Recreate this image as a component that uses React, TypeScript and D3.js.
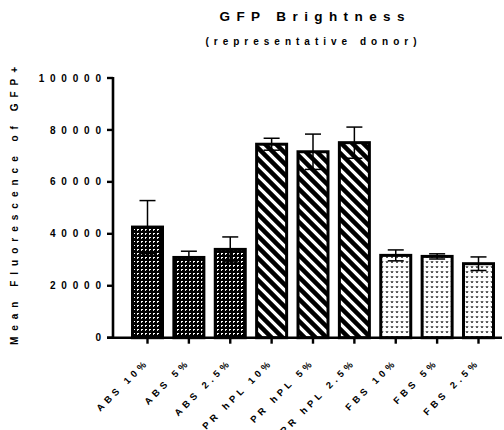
import React from "react";
import * as d3 from "d3";

const width = 504;
const height = 430;
const margin = { top: 78, right: 2, bottom: 94, left: 113 };

const categories = [
  "ABS 10%",
  "ABS 5%",
  "ABS 2.5%",
  "PR hPL 10%",
  "PR hPL 5%",
  "PR hPL 2.5%",
  "FBS 10%",
  "FBS 5%",
  "FBS 2.5%",
];
const means = [42600, 30900, 34000, 74500, 71600, 75100, 31700, 31300, 28500];
const errors = [10200, 2400, 4800, 2300, 6800, 6000, 2100, 1000, 2600];
const groups = ["abs", "abs", "abs", "hpl", "hpl", "hpl", "fbs", "fbs", "fbs"];
const yTicks = [0, 20000, 40000, 60000, 80000, 100000];

const font = "Arial, 'Liberation Sans', Helvetica, sans-serif";

export default function App() {
  const y = d3
    .scaleLinear()
    .domain([0, 100000])
    .range([height - margin.bottom + 1.7, margin.top]);

  const x = d3
    .scalePoint<string>()
    .domain(categories)
    .range([147.5, 478.5]);

  const barW = 30;
  const base = y(0);

  return (
    <svg
      width={width}
      height={height}
      style={{ position: "absolute", left: 0, top: 0 }}
      fontFamily={font}
    >
      <defs>
        <pattern id="abs" width="4" height="4" patternUnits="userSpaceOnUse">
          <rect width="4" height="4" fill="#000" />
          <rect x="1" y="1" width="2" height="1" fill="#fff" />
          <rect x="1" y="2" width="1" height="1" fill="#ddd" />
        </pattern>
        <pattern id="hpl" width="11" height="11" patternUnits="userSpaceOnUse">
          <rect width="11" height="11" fill="#fff" />
          <path
            d="M-3,-3 L14,14 M-3,8 L3,14 M8,-3 L14,3"
            stroke="#000"
            strokeWidth="4.5"
          />
        </pattern>
        <pattern id="fbs" width="5" height="5" patternUnits="userSpaceOnUse">
          <rect width="5" height="5" fill="#fff" />
          <path d="M1,1 L2,3 L3,1" stroke="#333" strokeWidth="1" fill="none" />
        </pattern>
      </defs>

      <text
        x={312 + 3.2}
        y={21}
        textAnchor="middle"
        fontSize={13.5}
        fontWeight="bold"
        letterSpacing={6.4}
      >
        GFP Brightness
      </text>
      <text
        x={311 + 2.5}
        y={45}
        textAnchor="middle"
        fontSize={10}
        fontWeight="bold"
        letterSpacing={5}
      >
        (representative donor)
      </text>

      <text
        transform={`translate(18, ${206 - 3}) rotate(-90)`}
        textAnchor="middle"
        fontSize={10}
        fontWeight="bold"
        letterSpacing={6}
      >
        Mean Fluorescence of GFP+
      </text>

      {categories.map((c, i) => {
        const cx = x(c)!;
        return (
          <rect
            key={c}
            x={cx - barW / 2}
            y={y(means[i])}
            width={barW}
            height={base - y(means[i])}
            fill={`url(#${groups[i]})`}
            stroke="#000"
            strokeWidth={3}
          />
        );
      })}

      {categories.map((c, i) => {
        const cx = x(c)!;
        const hi = y(means[i] + errors[i]);
        const lo = y(means[i] - errors[i]);
        return (
          <g key={c} stroke="#000" strokeWidth={1.5}>
            <line x1={cx} x2={cx} y1={hi} y2={lo} />
            <line x1={cx - 8} x2={cx + 8} y1={hi} y2={hi} />
            <line x1={cx - 8} x2={cx + 8} y1={lo} y2={lo} />
          </g>
        );
      })}

      {/* y axis */}
      <line
        x1={margin.left}
        x2={margin.left}
        y1={margin.top - 1}
        y2={base + 1.3}
        stroke="#000"
        strokeWidth={2.6}
      />
      {yTicks.map((t) => (
        <g key={t}>
          <line
            x1={margin.left - 6}
            x2={margin.left}
            y1={y(t)}
            y2={y(t)}
            stroke="#000"
            strokeWidth={2.4}
          />
          <text
            x={101 + 5.8}
            y={y(t) + 3.6}
            textAnchor="end"
            fontSize={10}
            fontWeight="bold"
            letterSpacing={5.8}
          >
            {t}
          </text>
        </g>
      ))}

      {/* x axis */}
      <line
        x1={margin.left - 6}
        x2={502}
        y1={base}
        y2={base}
        stroke="#000"
        strokeWidth={2.6}
      />
      {categories.map((c) => {
        const cx = x(c)!;
        return (
          <g key={c}>
            <line
              x1={cx}
              x2={cx}
              y1={base}
              y2={base + 6}
              stroke="#000"
              strokeWidth={2.4}
            />
            <text
              transform={`translate(${cx + 2}, ${base + 25}) rotate(-45)`}
              textAnchor="end"
              fontSize={9.5}
              fontWeight="bold"
              letterSpacing={4}
            >
              {c}
            </text>
          </g>
        );
      })}
    </svg>
  );
}
